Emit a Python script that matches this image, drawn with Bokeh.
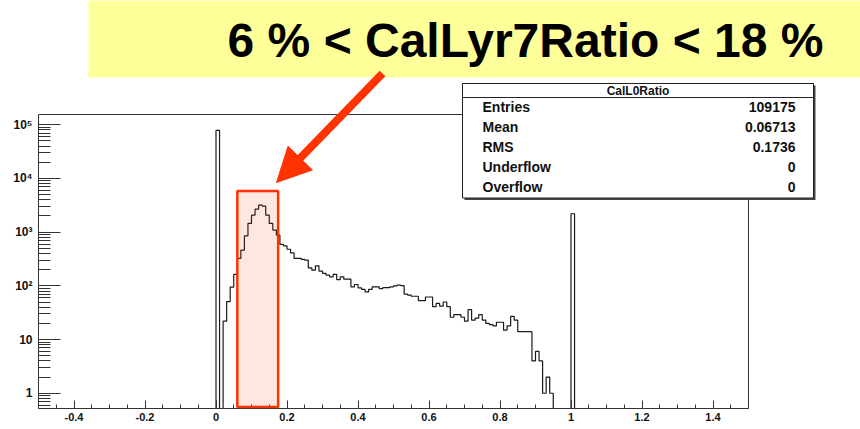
import numpy as np
from bokeh.plotting import figure
from bokeh.models import Range1d, FixedTicker, BoxAnnotation, Label, Arrow, NormalHead
from bokeh.embed import file_html
from bokeh.resources import INLINE

# ---------------- data ----------------
x_lo, x_hi = -0.5, 1.5          # histogram axis range
bin_width = 0.01                # 200 bins
first_edge = 0.0                # left edge of the first bin listed in counts
counts = [78300, 0, 22, 51, 95, 163, 324, 462, 850, 1450,
          2070, 2680, 3190, 3060, 2070, 1450, 1090, 880, 590, 556,
          480, 410, 324, 324, 310, 301, 216, 196, 236, 188,
          170, 158, 147, 163, 131, 147, 133, 133, 96, 106,
          92, 86, 77, 86, 96, 96, 89, 93, 93, 96,
          100, 103, 101, 70, 67, 64, 64, 53, 53, 62,
          62, 41, 47, 42, 50, 41, 26, 29, 29, 26,
          22, 36, 23, 25, 29, 23, 20, 19, 18, 21,
          21, 15, 18, 27, 23, 14, 14, 14, 14, 4,
          6, 4, 1, 2, 1, 0, 0, 0, 0, 0,
          2200]

xtick_values = [-0.4, -0.2, 0.0, 0.2, 0.4, 0.6, 0.8, 1.0, 1.2, 1.4]
xtick_labels = ["-0.4", "-0.2", "0", "0.2", "0.4", "0.6", "0.8", "1", "1.2", "1.4"]
ytick_values = [1, 10, 100, 1000, 10000, 100000]
ytick_labels = ["1", "10", "10\u00b2", "10\u00b3", "10\u2074", "10\u2075"]

stats_title = "CalL0Ratio"
stats_names = ["Entries", "Mean", "RMS", "Underflow", "Overflow"]
stats_values = ["109175", "0.06713", "0.1736", "0", "0"]
banner_text = "6 % < CalLyr7Ratio < 18 %"
cut_lo, cut_hi = 0.06, 0.175

# ---------------- layout ----------------
W, H = 860, 429
L, R, T, B = 38, 748, 114, 408       # histogram box on the page (px)
Y_LO, Y_HI = 0.52, 1.55e5
RED = "#ff3300"
FONT = "Liberation Sans"

sx = (R - L) / (x_hi - x_lo)
llo, lhi = np.log10(Y_LO), np.log10(Y_HI)
sy = (B - T) / (lhi - llo)
view_x = (x_lo - L / sx, x_hi + (W - R) / sx)
view_y = (10 ** (llo - (H - B) / sy), 10 ** (lhi + T / sy))


def X(px):
    return x_lo + (px - L) / sx


def Y(py):
    return 10 ** (llo + (B - py) / sy)


n_bins = int(round((x_hi - x_lo) / bin_width))
edges = np.linspace(x_lo, x_hi, n_bins + 1)
full = np.zeros(n_bins)
start = int(round((first_edge - x_lo) / bin_width))
full[start:start + len(counts)] = counts
vals = np.maximum(full, Y_LO)
xs = np.repeat(edges, 2)[1:-1]
ys = np.repeat(vals, 2)

p = figure(width=W, height=H, x_range=Range1d(*view_x), y_range=Range1d(*view_y),
           y_axis_type="log", output_backend="svg", toolbar_location=None,
           min_border_left=0, min_border_right=0, min_border_top=0, min_border_bottom=0)
p.grid.visible = False
p.outline_line_alpha = 0
p.background_fill_color = "white"
p.border_fill_color = "white"

# x axis
xa = p.xaxis[0]
xa.fixed_location = Y_LO
minor_x = [round(v, 2) for v in np.arange(-0.45, 1.5, 0.05)]
xa.ticker = FixedTicker(ticks=xtick_values, minor_ticks=minor_x)
xa.major_label_overrides = dict(zip(xtick_values, xtick_labels))
xa.major_tick_in = 8
xa.major_tick_out = 0
xa.minor_tick_in = 4
xa.minor_tick_out = 0
xa.major_label_standoff = 4
xa.major_label_text_font = FONT
xa.major_label_text_font_style = "bold"
xa.major_label_text_font_size = "11px"
xa.major_label_text_color = "#111111"
xa.axis_line_alpha = 0
xa.major_tick_line_color = "#333333"
xa.minor_tick_line_color = "#333333"

# y axis
ya = p.yaxis[0]
ya.fixed_location = x_lo
minor_y = [k * 10.0 ** d for d in range(-1, 6) for k in range(2, 10) if Y_LO < k * 10.0 ** d < Y_HI]
ya.ticker = FixedTicker(ticks=ytick_values, minor_ticks=minor_y)
ya.major_label_overrides = dict(zip(ytick_values, ytick_labels))
ya.major_tick_in = 22
ya.major_tick_out = 0
ya.minor_tick_in = 12
ya.minor_tick_out = 0
ya.major_label_standoff = 6
ya.major_label_text_font = FONT
ya.major_label_text_font_style = "bold"
ya.major_label_text_font_size = "12px"
ya.major_label_text_color = "#111111"
ya.axis_line_alpha = 0
ya.major_tick_line_color = "#333333"
ya.minor_tick_line_color = "#333333"

# histogram outline
p.line(xs, ys, line_color="#1a1a1a", line_width=1.2)

# histogram frame
p.add_layout(BoxAnnotation(left=x_lo, right=x_hi, bottom=Y_LO, top=Y_HI,
                           fill_alpha=0, line_color="#333333", line_alpha=1, line_width=1))

# selection box
p.add_layout(BoxAnnotation(left=cut_lo, right=cut_hi, bottom=Y(406.5), top=Y(190.5),
                           fill_color=RED, fill_alpha=0.12, line_color=RED, line_alpha=1, line_width=2.5))

# banner
p.add_layout(BoxAnnotation(left=X(88), right=X(862), top=Y(-2), bottom=Y(77),
                           fill_color="#ffff99", fill_alpha=1.0, line_alpha=0))
p.add_layout(Label(x=X(525), y=Y(40), text=banner_text, text_align="center", text_baseline="middle",
                   text_font=FONT, text_font_style="bold", text_font_size="48px", text_color="black"))

# stats box (shadow, box, header)
p.add_layout(BoxAnnotation(left=X(464), right=X(815), top=Y(85), bottom=Y(199.5),
                           fill_color="#444444", fill_alpha=1.0, line_alpha=0))
p.add_layout(BoxAnnotation(left=X(462), right=X(813), top=Y(83), bottom=Y(197.5),
                           fill_color="white", fill_alpha=1.0, line_color="#222222", line_alpha=1, line_width=1))
p.add_layout(BoxAnnotation(left=X(462), right=X(813), top=Y(83), bottom=Y(97),
                           fill_color="white", fill_alpha=1.0, line_color="#222222", line_alpha=1, line_width=1))
p.add_layout(Label(x=X(637.5), y=Y(90), text=stats_title, text_align="center", text_baseline="middle",
                   text_font=FONT, text_font_style="bold", text_font_size="12px", text_color="#111111"))
for i, (nm, vl) in enumerate(zip(stats_names, stats_values)):
    yy = Y(106 + 20 * i)
    p.add_layout(Label(x=X(482), y=yy, text=nm, text_align="left", text_baseline="middle",
                       text_font=FONT, text_font_style="bold", text_font_size="14px", text_color="#111111"))
    p.add_layout(Label(x=X(795), y=yy, text=vl, text_align="right", text_baseline="middle",
                       text_font=FONT, text_font_style="bold", text_font_size="14px", text_color="#111111"))

# arrow
p.add_layout(Arrow(end=NormalHead(size=34, fill_color=RED, line_color=RED),
                   x_start=X(382), y_start=Y(73), x_end=X(276), y_end=Y(182),
                   line_color=RED, line_width=8))

open("out.html", "w").write(file_html(p, INLINE))
